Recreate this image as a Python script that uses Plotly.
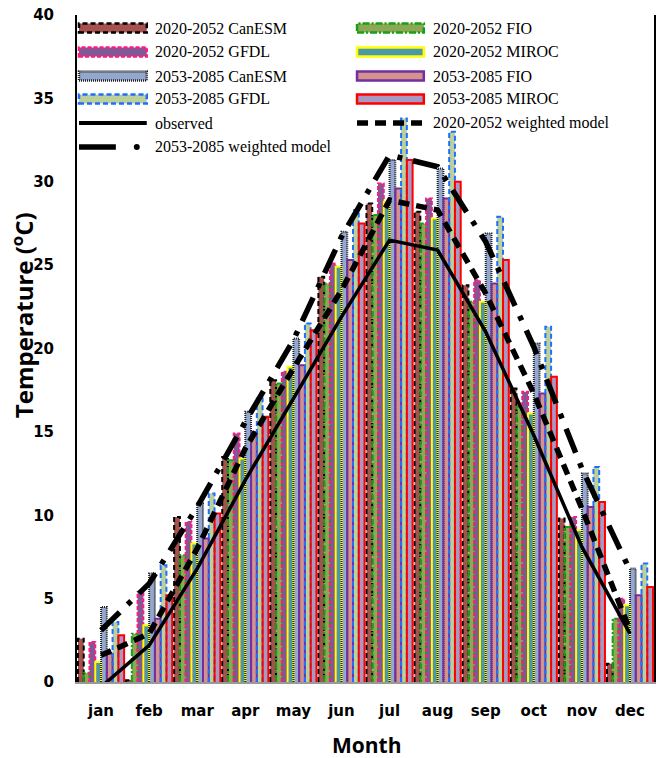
import numpy as np
import plotly.graph_objects as go

months = ["jan", "feb", "mar", "apr", "may", "jun", "jul", "aug", "sep", "oct", "nov", "dec"]

canesm_2020 = [2.6, 0.1, 9.9, 13.5, 18.1, 24.3, 28.7, 28.2, 23.8, 17.6, 9.8, 1.1]
fio_2020 = [0.55, 2.9, 7.6, 13.3, 17.9, 23.9, 28.0, 27.5, 22.8, 16.5, 9.3, 3.8]
gfdl_2020 = [2.4, 5.4, 9.6, 14.9, 18.6, 25.1, 29.9, 29.0, 24.1, 17.4, 9.9, 5.0]
miroc_2020 = [1.2, 3.4, 8.3, 13.4, 18.9, 24.9, 28.8, 27.8, 22.8, 16.1, 9.1, 4.6]
canesm_2053 = [4.5, 6.5, 10.7, 16.2, 20.6, 27.0, 31.3, 30.8, 26.9, 20.3, 12.5, 6.8]
fio_2053 = [1.7, 3.8, 8.6, 15.0, 19.0, 25.3, 29.6, 29.0, 23.9, 17.3, 10.5, 5.2]
gfdl_2053 = [3.6, 7.0, 11.3, 17.0, 21.5, 28.3, 33.8, 33.0, 27.9, 21.3, 12.9, 7.1]
miroc_2053 = [2.8, 5.2, 10.1, 15.9, 21.1, 27.5, 31.3, 30.0, 25.3, 18.3, 10.8, 5.7]

observed = [-0.3, 2.2, 6.8, 12.1, 17.0, 21.9, 26.5, 25.9, 21.0, 14.8, 8.1, 2.9]
weighted_2020 = [1.6, 2.9, 8.0, 14.0, 18.8, 23.5, 28.9, 28.3, 23.3, 17.3, 10.4, 3.1]
weighted_2053 = [3.1, 5.9, 10.5, 15.6, 20.5, 26.7, 31.6, 30.9, 26.4, 20.1, 12.8, 6.7]

# name, values, fill colour, border colour, border dash
bar_series = [
    ("2020-2052 CanESM", canesm_2020, "#A5514D", "#000000", "5px,3px"),
    ("2020-2052 FIO", fio_2020, "#8CA857", "#16A016", "7px,2px,2px,2px"),
    ("2020-2052 GFDL", gfdl_2020, "#7C5A96", "#FF1A80", "4px,2px"),
    ("2020-2052 MIROC", miroc_2020, "#4B98A9", "#FFFF00", "solid"),
    ("2053-2085 CanESM", canesm_2053, "#94A8CF", "#222222", "1px,1px"),
    ("2053-2085 FIO", fio_2053, "#D4928F", "#7030A0", "solid"),
    ("2053-2085 GFDL", gfdl_2053, "#BBD09A", "#1F6FFF", "5px,3px"),
    ("2053-2085 MIROC", miroc_2053, "#A899C2", "#FF0000", "solid"),
]

W, H = 656, 758
ML, MR, MT, MB = 77, 0, 15, 76
PW, PH = W - ML - MR, H - MT - MB

bar_w = 0.12
idx = np.arange(len(months))

fig = go.Figure()

for k, (name, vals, fill, border, dash) in enumerate(bar_series):
    xc = idx - 0.42 + bar_w * k
    fig.add_trace(go.Bar(x=xc, y=vals, width=bar_w, name=name,
                         marker=dict(color=fill, line=dict(width=0)),
                         showlegend=False))

# bar outlines (dashed borders)
for k, (name, vals, fill, border, dash) in enumerate(bar_series):
    xc = idx - 0.42 + bar_w * k
    ox, oy = [], []
    for c, v in zip(xc, vals):
        x0, x1 = c - bar_w / 2, c + bar_w / 2
        ox += [x0, x0, x1, x1, None]
        oy += [0, v, v, 0, None]
    fig.add_trace(go.Scatter(x=ox, y=oy, mode="lines", showlegend=False,
                             line=dict(color=border, width=2, dash=dash),
                             hoverinfo="skip"))

fig.add_trace(go.Scatter(x=idx, y=observed, mode="lines", name="observed",
                         line=dict(color="black", width=3.5), showlegend=False))
fig.add_trace(go.Scatter(x=idx, y=weighted_2020, mode="lines",
                         name="2020-2052 weighted model",
                         line=dict(color="black", width=5.5, dash="11px,7px"),
                         showlegend=False))
fig.add_trace(go.Scatter(x=idx, y=weighted_2053, mode="lines",
                         name="2053-2085 weighted model",
                         line=dict(color="black", width=5.5, dash="26px,11px,5px,11px"),
                         showlegend=False))


def px_x(px):
    return (px - ML) / PW


def px_y(py):
    return (H - MB - py) / PH


shapes = []
annotations = []
legend_font = dict(family="Liberation Serif", size=16, color="black")
rows = [28, 52, 76, 99, 123, 147]
cols = [(79, 147, 153), (358, 425, 432)]

for k, (name, vals, fill, border, dash) in enumerate(bar_series):
    r, c = divmod(k, 2)
    x0, x1, tx = cols[c]
    yc = rows[r]
    shapes.append(dict(type="rect", xref="paper", yref="paper",
                       x0=px_x(x0), x1=px_x(x1), y0=px_y(yc + 4.5), y1=px_y(yc - 4.5),
                       fillcolor=fill, line=dict(color=border, width=2.5, dash=dash)))
    annotations.append(dict(xref="paper", yref="paper", x=px_x(tx), y=px_y(yc),
                            text=name, showarrow=False, xanchor="left",
                            yanchor="middle", font=legend_font))

# observed
x0, x1, tx = cols[0]
shapes.append(dict(type="line", xref="paper", yref="paper", x0=px_x(x0), x1=px_x(x1),
                   y0=px_y(rows[4]), y1=px_y(rows[4]), line=dict(color="black", width=4)))
annotations.append(dict(xref="paper", yref="paper", x=px_x(tx), y=px_y(rows[4]),
                        text="observed", showarrow=False, xanchor="left",
                        yanchor="middle", font=legend_font))
# 2020-2052 weighted model
x0, x1, tx = cols[1]
shapes.append(dict(type="line", xref="paper", yref="paper", x0=px_x(x0), x1=px_x(x1),
                   y0=px_y(rows[4]), y1=px_y(rows[4]),
                   line=dict(color="black", width=5.5, dash="11px,7px")))
annotations.append(dict(xref="paper", yref="paper", x=px_x(tx), y=px_y(rows[4]),
                        text="2020-2052 weighted model", showarrow=False, xanchor="left",
                        yanchor="middle", font=legend_font))
# 2053-2085 weighted model
x0, x1, tx = cols[0]
shapes.append(dict(type="line", xref="paper", yref="paper", x0=px_x(x0), x1=px_x(116),
                   y0=px_y(rows[5]), y1=px_y(rows[5]), line=dict(color="black", width=5.5)))
shapes.append(dict(type="circle", xref="paper", yref="paper", x0=px_x(134), x1=px_x(140),
                   y0=px_y(rows[5] + 3), y1=px_y(rows[5] - 3),
                   fillcolor="black", line=dict(color="black", width=0)))
annotations.append(dict(xref="paper", yref="paper", x=px_x(tx), y=px_y(rows[5]),
                        text="2053-2085 weighted model", showarrow=False, xanchor="left",
                        yanchor="middle", font=legend_font))

# axis titles
annotations.append(dict(xref="paper", yref="paper", x=px_x(22), y=px_y(315),
                        text="Temperature (<sup>o</sup>C)", textangle=-90, showarrow=False,
                        xanchor="center", yanchor="middle",
                        font=dict(family="Open Sans", size=24, color="black", weight="bold")))
annotations.append(dict(xref="paper", yref="paper", x=px_x(368), y=px_y(745),
                        text="Month", showarrow=False, xanchor="center", yanchor="middle",
                        font=dict(family="Open Sans", size=21, color="black", weight="bold")))

tick_font = dict(family="DejaVu Sans", size=15, color="black", weight="bold")

fig.update_layout(
    width=W, height=H,
    margin=dict(l=ML, r=MR, t=MT, b=MB),
    paper_bgcolor="white", plot_bgcolor="white",
    barmode="overlay",
    showlegend=False,
    shapes=shapes,
    annotations=annotations,
    xaxis=dict(range=[-0.5, 11.5], tickmode="array", tickvals=list(idx), ticktext=months,
               showgrid=False, zeroline=False, showline=True, linecolor="#999999",
               linewidth=2, mirror=False, ticks="", tickfont=tick_font,
               ticklabelstandoff=14),
    yaxis=dict(range=[0, 40], dtick=5, showgrid=False, zeroline=False, showline=True,
               linecolor="black", linewidth=2, mirror=True, ticks="", tickfont=tick_font,
               ticklabelstandoff=18),
)

fig.write_html("out.html")
